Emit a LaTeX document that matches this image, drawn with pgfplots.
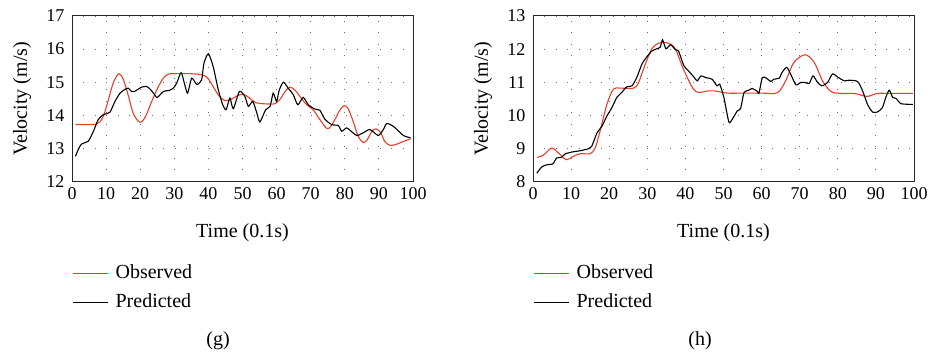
\documentclass[border=0pt]{standalone}
\usepackage{pgfplots}
\pgfplotsset{compat=1.18}
\usepackage{pgfplotstable}
\usepackage{fontspec}
\setmainfont{Liberation Serif}
\definecolor{obsred}{RGB}{232,62,40}
\definecolor{gridgray}{RGB}{110,110,110}

\pgfplotstableread{
x y
1 13.72
3 13.72
5 13.72
7 13.73
8.2 13.80
9.3 14.00
10.5 14.40
12 14.95
13.6 15.25
15 15.10
16.5 14.60
18 14.05
19.9 13.79
21.5 13.95
23.5 14.45
25.5 14.90
27 15.15
28.5 15.25
31 15.26
34 15.26
37 15.24
38.8 15.20
40 15.10
41.5 14.85
43 14.60
44.5 14.46
46 14.46
48 14.56
49.5 14.63
51 14.60
52.5 14.48
54 14.38
56 14.35
58 14.34
59.5 14.35
61 14.48
62.5 14.72
63.9 14.85
65.5 14.75
67.5 14.48
69 14.30
70.7 14.17
72.5 13.90
74.5 13.62
75.5 13.62
77 13.85
78.5 14.15
79.8 14.29
81 14.20
82.5 13.80
84 13.35
85.4 13.18
86.5 13.25
88 13.52
89.2 13.59
90.5 13.48
91.8 13.20
93.3 13.09
95 13.12
97 13.20
99.3 13.29
}\obsg

\pgfplotstableread{
x y
1 12.76
2 13.00
2.8 13.13
4 13.18
4.8 13.22
5.5 13.35
6.3 13.52
7.7 13.87
9.2 14.02
11.1 14.09
12.6 14.42
14.1 14.67
15.5 14.78
16.5 14.82
17.5 14.72
18.5 14.73
20.4 14.85
21.9 14.87
23 14.78
23.9 14.67
25.0 14.54
26.8 14.72
28.5 14.75
29.7 14.82
30.7 14.97
32.0 15.29
33 14.95
33.9 14.67
35.1 15.12
36.6 14.93
38.0 15.07
38.7 15.57
40.0 15.86
41.4 15.47
42.9 14.77
44.2 14.32
45.2 14.17
46.3 14.52
47.3 14.20
49.1 14.72
50.7 14.57
51.7 14.27
53.0 14.42
54.2 14.07
55.1 13.80
56.8 14.17
58.1 14.27
59.0 14.67
60.0 14.42
60.8 14.77
62.0 15.00
63.4 14.82
64.9 14.62
66.2 14.32
67.8 14.54
69.3 14.32
71.2 14.19
72.7 14.15
74.1 13.89
76.1 13.72
78.1 13.69
79.1 13.52
80.5 13.62
81.5 13.55
83.5 13.39
85.4 13.47
87.4 13.57
89.8 13.39
91.3 13.57
92.3 13.75
94.2 13.67
97.2 13.39
99.3 13.32
}\predg

\pgfplotstableread{
x y
1 8.73
2.7 8.79
4.9 9.01
6.7 8.86
8.7 8.66
10.6 8.76
12.4 8.84
15 8.84
16.3 9.01
17.6 9.52
19.4 10.33
21.1 10.79
22.9 10.82
26.4 10.82
27.7 10.99
29.5 11.55
31.2 12.01
33 12.18
35.6 12.18
37.4 12.00
39.1 11.50
40.9 11.04
42.2 10.78
43.5 10.69
46.1 10.74
47.5 10.74
51 10.67
55 10.67
60 10.67
64.1 10.68
66.3 11.04
68.5 11.60
71.4 11.83
73.8 11.60
76 11.04
78.2 10.72
80.8 10.66
84.3 10.66
86.1 10.61
87.8 10.57
90.4 10.66
94 10.66
99.7 10.66
}\obsh

\pgfplotstableread{
x y
1 8.25
2.3 8.44
3.8 8.51
5.2 8.53
6.2 8.71
7.5 8.73
8.4 8.83
10.2 8.89
12.4 8.93
14.6 8.99
15.4 9.06
16.8 9.47
18.1 9.67
19.4 9.98
20.7 10.23
22.0 10.54
23.3 10.69
24.6 10.86
26.0 10.89
27.3 11.16
28.6 11.55
29.9 11.77
31.2 11.94
32.5 12.01
33.4 12.06
34.0 12.28
34.9 12.01
36.1 12.13
37.4 11.98
38.2 11.94
39.6 11.50
40.9 11.33
42.2 11.16
43.1 11.04
44.1 11.19
45.3 11.14
47.0 11.09
48.3 10.89
49.0 10.94
50.1 10.54
51.4 9.80
52.3 9.88
53.6 10.13
54.5 10.21
55.4 10.69
56.7 10.76
57.5 10.81
58.9 10.72
59.3 10.66
60.2 11.14
61.3 11.12
62.4 11.02
63.2 11.09
64.6 11.12
65.4 11.30
66.6 11.45
67.6 11.25
69.0 10.92
70.2 10.99
71.5 10.99
72.5 10.96
73.5 11.19
74.7 10.99
75.8 10.89
77.3 10.99
78.6 11.25
79.9 11.16
81.7 11.04
83.0 11.06
85.2 11.02
86.5 10.74
87.8 10.33
89.1 10.10
90.4 10.10
91.7 10.23
92.6 10.54
93.5 10.76
94.4 10.54
95.3 10.51
96.6 10.35
99.7 10.33
}\predh

\pgfplotsset{
  myaxis/.style={
    scale only axis,
    anchor=south west,
    height=165.5pt,
    xmin=0, xmax=100,
    xtick={0,10,...,100},
    major tick length=0pt,
    axis line style={line width=1pt, black!85},
    grid=major,
    major grid style={gridgray, line width=0.9pt, dash pattern=on 0.9pt off 10.5pt},
    /pgf/number format/assume math mode=true,
    tick label style={font=\fontsize{18}{20}\selectfont},
    xticklabel style={yshift=-2.5pt},
    yticklabel style={xshift=-4pt},
    label style={font=\fontsize{20}{24}\selectfont},
    xlabel={Time (0.1s)},
    ylabel={Velocity (m/s)},
    xlabel style={at={(axis description cs:0.5,0)}, anchor=center, yshift=-51pt},
    ylabel style={at={(axis description cs:0,0.5)}, anchor=center, yshift=50pt},
    legend cell align=left,
    legend image code/.code={\draw[##1, line width=1.1pt] (0pt,0pt) -- (35pt,0pt);},
    legend style={at={(axis description cs:0,-0.4985)}, anchor=north west,
      draw=none, fill=none, inner sep=0pt, outer sep=0pt,
      font=\fontsize{20}{24}\selectfont,
      nodes={inner sep=0pt, text height=15pt, text depth=4pt},
      row sep=10pt, column sep=7.5pt},
  },
}

\begin{document}
\begin{tikzpicture}
\path[use as bounding box] (0,0) rectangle (931pt,355pt);
\begin{axis}[myaxis, at={(72pt,173.5pt)}, width=341pt, ymin=12, ymax=17, ytick={12,13,...,17}]
\addplot[obsred, line width=1.1pt, smooth, tension=0.5] table {\obsg};
\addlegendentry{Observed}
\addplot[black, line width=1.1pt, smooth, tension=0.4] table {\predg};
\addlegendentry{Predicted}
\end{axis}
\begin{axis}[myaxis, at={(533pt,173.5pt)}, width=381pt, ymin=8, ymax=13, ytick={8,9,...,13}]
\addplot[obsred, line width=1.1pt, smooth, tension=0.5] table {\obsh};
\addlegendentry{Observed}
\addplot[black, line width=1.1pt, smooth, tension=0.4] table {\predh};
\addlegendentry{Predicted}
\end{axis}
\node[font=\fontsize{20}{24}\selectfont] at (218pt,14pt) {(g)};
\node[font=\fontsize{20}{24}\selectfont] at (700pt,14pt) {(h)};
\end{tikzpicture}
\end{document}
